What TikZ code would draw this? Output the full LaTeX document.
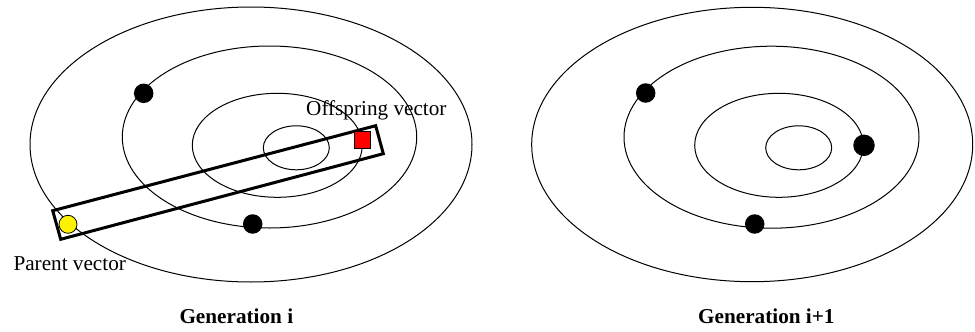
\documentclass[tikz,border=0pt]{standalone}
\usepackage{fontspec}
\setmainfont{Liberation Serif}
\begin{document}
\begin{tikzpicture}[x=1pt,y=-1pt,
  orbit/.style={draw=black,line width=1pt},
  dot/.style={circle,fill=black,draw=none,minimum size=19.5pt,inner sep=0pt},
  bigdot/.style={circle,fill=black,draw=none,minimum size=21.5pt,inner sep=0pt},
  parentdot/.style={circle,fill=yellow,draw=black,line width=0.8pt,minimum size=18pt,inner sep=0pt},
  offbox/.style={rectangle,fill=red,draw=black,line width=0.8pt,minimum size=16.5pt,inner sep=0pt},
  lbl/.style={anchor=base west,inner sep=0pt,font=\fontsize{21.2pt}{25pt}\selectfont},
  gencaption/.style={anchor=base west,inner sep=0pt,font=\fontsize{21.2pt}{25pt}\selectfont\bfseries},
  bar/.style={draw=black,line width=3pt,line join=miter}]
\useasboundingbox (0,0) rectangle (975,332);
% left ellipses
\draw[orbit] (251,144.5) ellipse [x radius=221pt, y radius=137.5pt];
\draw[orbit] (269.5,137) ellipse [x radius=147.2pt, y radius=91pt];
\draw[orbit] (277.3,145.3) ellipse [x radius=85pt, y radius=52pt];
\draw[orbit] (296.3,147.8) ellipse [x radius=33pt, y radius=22pt];
% right ellipses
\draw[orbit] (752.2,144.5) ellipse [x radius=220.5pt, y radius=137.2pt];
\draw[orbit] (771.5,137.2) ellipse [x radius=147.5pt, y radius=91pt];
\draw[orbit] (779,145.3) ellipse [x radius=84.3pt, y radius=52pt];
\draw[orbit] (798.7,147.8) ellipse [x radius=33pt, y radius=22pt];
% rotated bar
\draw[bar] (52.7,210.7) -- (375.7,125.7) -- (383.3,153.7) -- (60.7,239.3) -- cycle;
% points
\node[dot] (l1) at (143.7,93.3) {};
\node[dot] (l2) at (252.7,224) {};
\node[parentdot] (p) at (68,224.3) {};
\node[offbox] (o) at (362.5,139.7) {};
\node[dot] (r1) at (645.7,93) {};
\node[dot] (r2) at (754.7,224) {};
\node[bigdot] (r3) at (864,145.3) {};
% labels
\node[lbl] (tof) at (306,115.7) {Offspring vector};
\node[lbl] (tpa) at (13.3,270.7) {Parent vector};
\node[gencaption] (g1) at (179.3,323.5) {Generation i};
\node[gencaption] (g2) at (698,323.5) {Generation i+1};
\end{tikzpicture}
\end{document}
